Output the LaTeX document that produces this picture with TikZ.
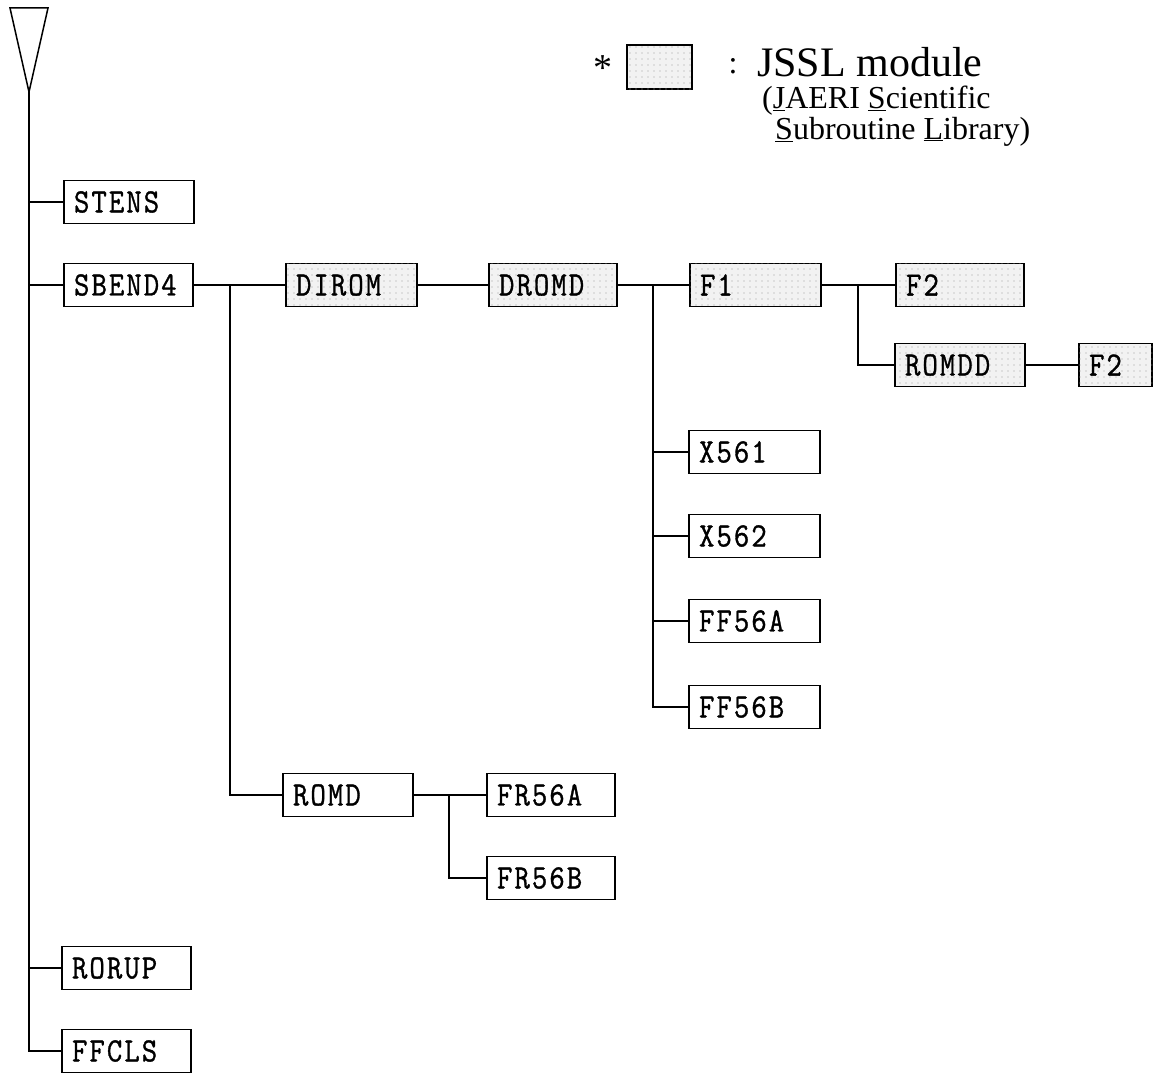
\documentclass[tikz,border=0pt]{standalone}
\usepackage{fontspec}
\setmainfont{Liberation Serif}
\newfontfamily\boxfont[LetterSpace=6,FakeBold=1,FakeStretch=0.88]{Latin Modern Mono}
\usetikzlibrary{patterns.meta}
\begin{document}
\begin{tikzpicture}[x=1pt,y=-1pt]
\tikzset{
  box/.style={draw, line width=1.6pt, rectangle, minimum height=43pt, text width=#1,
    inner xsep=10pt, inner ysep=0pt, align=left,
    font=\boxfont\fontsize{34}{34}\selectfont},
  box/.default=110pt,
  jssl/.style={box=#1, fill=gray!10,
    postaction={pattern={Dots[distance=6pt,radius=0.7pt]}, pattern color=gray!75}},
  jssl/.default=110pt,
  conn/.style={line width=1.6pt},
  legtext/.style={anchor=base west, inner sep=0pt},
}
\useasboundingbox (0,0) rectangle (1156,1073);
% top triangle
\coordinate (tl) at (10,8);
\coordinate (tr) at (48,8);
\coordinate (apex) at (29,92);
\draw[line width=1.5pt, line join=miter] (tl) -- (tr) -- (apex) -- cycle;

% level 1
\node[box=110pt] (stens)  at (129,202)  {STENS};
\node[box=109pt] (sbend)  at (128.5,285) {SBEND4};
\node[box=109pt] (rorup)  at (126.5,968) {RORUP};
\node[box=109pt] (ffcls)  at (126.5,1051) {FFCLS};

% level 2
\node[jssl=111pt] (dirom) at (351.5,285) {DIROM};
\node[box=110pt]  (romd)  at (348,795)  {ROMD};

% level 3
\node[jssl=108pt] (dromd) at (553,285) {DROMD};
\node[box=108pt]  (fr56a) at (551,795) {FR56A};
\node[box=108pt]  (fr56b) at (551,878) {FR56B};

% level 4
\node[jssl=111pt] (f1)    at (755.5,285) {F1};
\node[box=111pt]  (x561)  at (754.5,452) {X561};
\node[box=111pt]  (x562)  at (754.5,536) {X562};
\node[box=111pt]  (ff56a) at (754.5,621) {FF56A};
\node[box=111pt]  (ff56b) at (754.5,707) {FF56B};

% level 5
\node[jssl=108pt] (f2a)   at (960,285) {F2};
\node[jssl=110pt] (romdd) at (960,365) {ROMDD};
\node[jssl=53pt]  (f2b)   at (1115.5,365) {F2};

% junction x positions
\coordinate (j1) at (230,0);
\coordinate (j2) at (449,0);
\coordinate (j3) at (653,0);
\coordinate (j4) at (858,0);

% trunk
\draw[conn] (apex) |- (ffcls.west);
\draw[conn] (apex |- stens.west) -- (stens.west);
\draw[conn] (apex |- sbend.west) -- (sbend.west);
\draw[conn] (apex |- rorup.west) -- (rorup.west);

% SBEND4 children
\draw[conn] (sbend.east) -- (dirom.west);
\draw[conn] (sbend.east -| j1) |- (romd.west);

% DIROM
\draw[conn] (dirom.east) -- (dromd.west);

% DROMD children
\draw[conn] (dromd.east) -- (f1.west);
\draw[conn] (dromd.east -| j3) |- (ff56b.west);
\draw[conn] (j3 |- x561.west) -- (x561.west);
\draw[conn] (j3 |- x562.west) -- (x562.west);
\draw[conn] (j3 |- ff56a.west) -- (ff56a.west);

% F1 children
\draw[conn] (f1.east) -- (f2a.west);
\draw[conn] (f1.east -| j4) |- (romdd.west);
\draw[conn] (romdd.east) -- (f2b.west);

% ROMD children
\draw[conn] (romd.east) -- (fr56a.west);
\draw[conn] (romd.east -| j2) |- (fr56b.west);

% legend
\node[font=\fontsize{38}{38}\selectfont, inner sep=0pt] (star) at (603,68) {*};
\node[draw, line width=1.4pt, minimum width=65pt, minimum height=44pt, inner sep=0pt,
  fill=gray!10, postaction={pattern={Dots[distance=6pt,radius=0.7pt]}, pattern color=gray!75}]
  (legbox) at (659.5,67) {};
\node[font=\fontsize{32}{32}\selectfont, inner sep=0pt] (colon) at (733,66) {:};
\node[legtext, font=\fontsize{42}{42}\selectfont] (l1) at (757,76) {JSSL module};
\node[legtext, font=\fontsize{32}{32}\selectfont] (l2) at (762,108) {(\underline{J}AERI \underline{S}cientific};
\node[legtext, font=\fontsize{32}{32}\selectfont] (l3) at (775,139) {\underline{S}ubroutine \underline{L}ibrary)};
\end{tikzpicture}
\end{document}
